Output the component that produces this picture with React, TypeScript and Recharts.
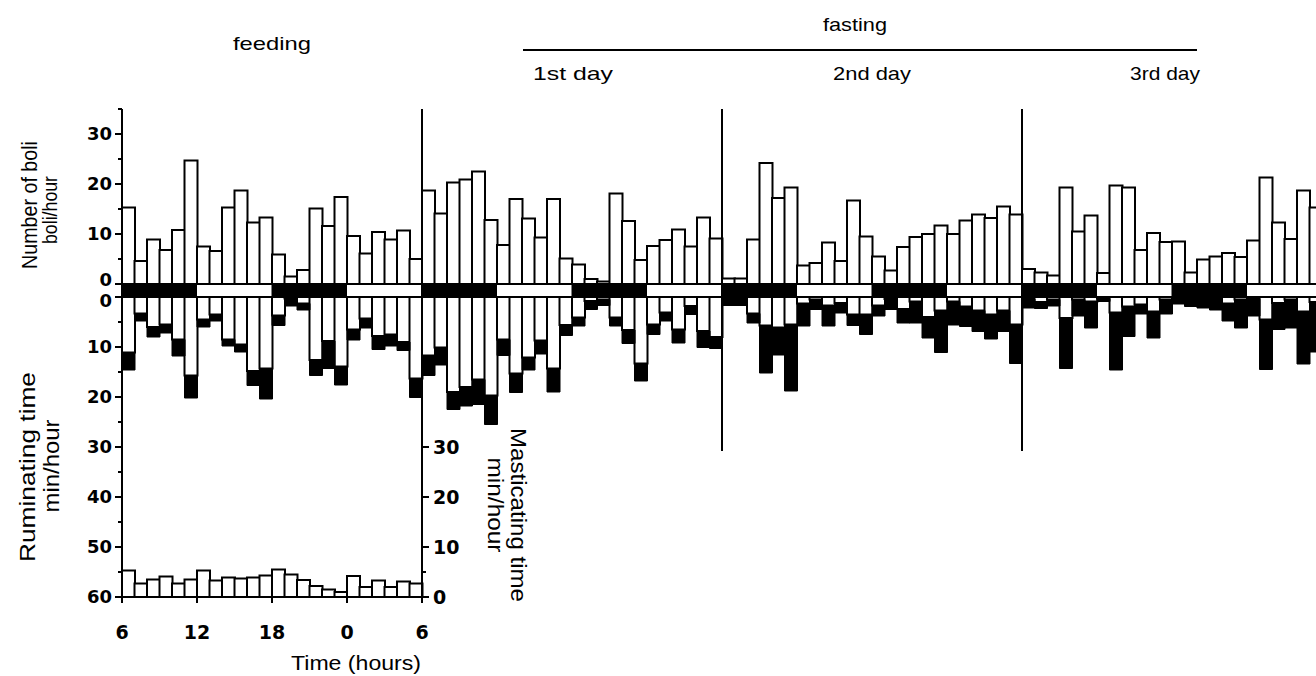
import React from "react";
import { ComposedChart, BarChart, Bar, Cell, XAxis, YAxis, ReferenceLine } from "recharts";

// one value per hour, each day starting at 06:00
const BOLI_FEED = [15.3, 4.6, 8.9, 6.8, 10.8, 24.7, 7.5, 6.6, 15.3, 18.7, 12.3, 13.3, 5.9, 1.5, 2.8, 15.1, 11.6, 17.4, 9.6, 6.1, 10.4, 8.9, 10.7, 5.0];
const BOLI_FAST1 = [18.7, 14.1, 20.3, 20.9, 22.5, 12.8, 7.8, 17.0, 13.1, 9.3, 17.0, 5.1, 3.9, 1.0, 0.5, 18.1, 12.6, 4.8, 7.6, 8.8, 10.9, 7.5, 13.3, 9.1];
const BOLI_FAST2 = [1.1, 1.1, 8.9, 24.2, 17.2, 19.3, 3.7, 4.2, 8.3, 4.6, 16.7, 9.5, 5.5, 2.7, 7.4, 9.4, 10.0, 11.7, 10.0, 12.7, 13.9, 13.2, 15.5, 13.9];
const BOLI_FAST3 = [3.0, 2.3, 1.7, 19.3, 10.5, 13.7, 2.2, 19.7, 19.3, 6.8, 10.2, 8.4, 8.5, 2.3, 4.9, 5.5, 6.2, 5.4, 8.7, 21.3, 12.3, 9.0, 18.7, 15.3];

// ruminating time, open (white) part and solid (black) part, min/hour
const RUM_OPEN_FEED = [11.1, 3.3, 6.0, 5.5, 8.5, 15.7, 4.5, 3.5, 8.5, 9.5, 14.8, 14.3, 3.7, 0.3, 1.3, 12.6, 8.8, 13.9, 6.5, 4.3, 7.8, 7.5, 9.0, 16.3];
const RUM_SOLID_FEED = [3.5, 1.5, 2.0, 1.7, 3.3, 4.5, 1.5, 1.3, 1.3, 1.5, 2.9, 6.1, 2.0, 1.5, 1.3, 3.1, 5.5, 3.7, 2.1, 1.9, 2.7, 2.3, 1.7, 3.8];
const RUM_OPEN_FAST1 = [11.7, 10.1, 19.0, 18.0, 16.5, 19.7, 8.5, 15.3, 12.1, 8.7, 14.3, 5.6, 4.1, 0.8, 0.5, 4.1, 6.6, 13.3, 5.5, 3.1, 6.5, 1.8, 6.8, 8.0];
const RUM_SOLID_FAST1 = [4.0, 3.5, 3.5, 3.8, 5.0, 5.8, 3.2, 3.8, 2.5, 2.7, 4.7, 2.1, 1.7, 1.7, 1.2, 1.7, 2.7, 3.5, 2.0, 1.7, 2.7, 1.7, 3.3, 2.3];
const RUM_OPEN_FAST2 = [0.4, 0.4, 3.3, 5.7, 6.1, 5.5, 1.3, 0.5, 1.7, 1.2, 3.5, 3.5, 1.7, 0.4, 2.4, 0.9, 4.0, 2.7, 0.9, 1.9, 2.7, 3.5, 2.7, 5.5];
const RUM_SOLID_FAST2 = [1.3, 1.3, 1.9, 9.5, 5.5, 13.3, 4.5, 2.0, 4.1, 2.0, 2.2, 4.0, 2.1, 2.1, 2.8, 4.3, 4.2, 8.4, 4.7, 4.0, 4.2, 4.9, 4.2, 7.8];
const RUM_OPEN_FAST3 = [0.4, 1.0, 0.5, 4.2, 0.5, 0.9, 0.3, 3.1, 1.9, 1.5, 2.9, 0.5, 0.2, 0.1, 0.1, 0.2, 1.3, 0.5, 0.3, 4.5, 1.2, 0.5, 2.9, 1.0];
const RUM_SOLID_FAST3 = [1.8, 1.3, 1.3, 10.1, 3.3, 5.3, 0.6, 11.5, 6.0, 1.9, 5.3, 2.9, 1.2, 1.8, 2.1, 2.4, 3.5, 5.7, 3.5, 10.0, 5.3, 5.7, 10.5, 10.0];

// masticating time during feeding day (inset), min/hour
const MAST_FEED = [5.3, 2.7, 3.5, 4.1, 2.7, 3.5, 5.3, 3.3, 3.9, 3.7, 3.9, 4.3, 5.5, 4.5, 3.4, 2.2, 1.5, 1.0, 4.2, 2.0, 3.3, 2.0, 3.1, 2.7];

// light/dark bar under the boli, one entry per 6 hours of a day
const STRIP_BLOCKS = ["dark", "light", "dark", "light"];
const DAY_STARTS = [48, 72]; // hours where fasting days 2 and 3 begin
const BOLI_TICKS = [0, 5, 10, 15, 20, 25, 30, 35];
const RUM_TICKS = [0, 5, 10, 15, 20, 25, 30, 35, 40, 45, 50, 55, 60];
const MAST_TICKS = [0, 5, 10, 20, 30];
const TIME_TICKS = [0, 6, 12, 18, 23]; // hour slots; the last label goes on the slot's far edge
const START_HOUR = 6;

const LOW_OFFSET = 2.6; // gap of the strip between the two panels, in axis units
const INSET_W = 300;
const HOUR_W = INSET_W / 24;
const FONT = "'Liberation Sans', Arial, sans-serif";
const NUM_FONT = "'DejaVu Sans', sans-serif";

const BOLI = [...BOLI_FEED, ...BOLI_FAST1, ...BOLI_FAST2, ...BOLI_FAST3];
const RUM_OPEN = [...RUM_OPEN_FEED, ...RUM_OPEN_FAST1, ...RUM_OPEN_FAST2, ...RUM_OPEN_FAST3];
const RUM_SOLID = [...RUM_SOLID_FEED, ...RUM_SOLID_FAST1, ...RUM_SOLID_FAST2, ...RUM_SOLID_FAST3];

const rows = BOLI.map((b, i) => ({
  k: i,
  boli: b,
  strip: -LOW_OFFSET,
  open: -RUM_OPEN[i],
  solid: -RUM_SOLID[i],
  dark: STRIP_BLOCKS[Math.floor((i % 24) / 6)] === "dark",
}));
const insetRows = MAST_FEED.map((m, i) => ({ k: i, mast: m }));
const leftTicks = [...BOLI_TICKS, ...RUM_TICKS.map((t) => -(t + LOW_OFFSET))];

function LeftTick(props: any) {
  const { x, y, payload } = props;
  const v = payload.value as number;
  const upper = v >= 0;
  const n = Math.round(upper ? v : -(v + LOW_OFFSET));
  const major = n % 10 === 0 && !(upper && n > 30);
  const ax = x + 8;
  // the two zero labels sit a little apart around the strip
  const shift = n === 0 ? (upper ? -4 : 4) : 0;
  return (
    <g>
      <line x1={ax - (major ? 7 : 4)} x2={ax} y1={y} y2={y} stroke="#000" strokeWidth={2} />
      {major && (
        <text x={ax - 10} y={y + shift} dy="0.36em" textAnchor="end" fontFamily={NUM_FONT} fontWeight="bold" fontSize={18} fill="#000">
          {n}
        </text>
      )}
    </g>
  );
}

function RightTick(props: any) {
  const { x, y, payload } = props;
  const n = payload.value as number;
  const major = n % 10 === 0;
  const ax = x - 8;
  return (
    <g>
      <line x1={ax} x2={ax + (major ? 7 : 4)} y1={y} y2={y} stroke="#000" strokeWidth={2} />
      {major && (
        <text x={ax + 11} y={y} dy="0.36em" textAnchor="start" fontFamily={NUM_FONT} fontWeight="bold" fontSize={19} fill="#000">
          {n}
        </text>
      )}
    </g>
  );
}

function TimeTick(props: any) {
  const { x, y, payload } = props;
  const slot = payload.value as number;
  const last = slot === 23;
  const edge = last ? x + HOUR_W / 2 : x - HOUR_W / 2;
  const hour = (START_HOUR + slot + (last ? 1 : 0)) % 24;
  const ay = y - 8;
  return (
    <g>
      <line x1={edge} x2={edge} y1={ay} y2={ay + 6} stroke="#000" strokeWidth={2} />
      <text x={edge} y={ay + 42} textAnchor="middle" fontFamily={NUM_FONT} fontWeight="bold" fontSize={19} fill="#000">
        {hour}
      </text>
    </g>
  );
}

function VText({ x, y, angle, len, size, children }: any) {
  return (
    <text transform={`translate(${x},${y}) rotate(${angle})`} textAnchor="middle" fontFamily={FONT} fontSize={size} textLength={len} lengthAdjust="spacingAndGlyphs" fill="#000">
      {children}
    </text>
  );
}

export default function App() {
  return (
    <div style={{ position: "absolute", left: 0, top: 0, width: 1316, height: 676, overflow: "hidden", background: "#fff" }}>
      <div style={{ position: "absolute", left: 0, top: 0 }}>
        <ComposedChart width={1322} height={676} data={rows} margin={{ top: 109, right: 0, bottom: 79, left: 62 }} barCategoryGap={0} barGap={0} stackOffset="none">
          <XAxis xAxisId="top" dataKey="k" type="category" hide height={0} />
          <XAxis xAxisId="low" dataKey="k" type="category" hide height={0} />
          <YAxis yAxisId="y" type="number" domain={[-(60 + LOW_OFFSET), 35]} allowDataOverflow ticks={leftTicks} interval={0} width={60} tickSize={6} tickMargin={2} tickLine={false} axisLine={{ stroke: "#000", strokeWidth: 2 }} tick={<LeftTick />} />
          <Bar xAxisId="top" yAxisId="y" dataKey="boli" fill="#fff" stroke="#000" strokeWidth={2} isAnimationActive={false} />
          <Bar xAxisId="low" yAxisId="y" dataKey="strip" stackId="low" isAnimationActive={false}>
            {rows.map((r) => (
              <Cell key={r.k} fill={r.dark ? "#000" : "#fff"} stroke={r.dark ? "#000" : "none"} />
            ))}
          </Bar>
          <Bar xAxisId="low" yAxisId="y" dataKey="open" stackId="low" fill="#fff" stroke="#000" strokeWidth={2} isAnimationActive={false} />
          <Bar xAxisId="low" yAxisId="y" dataKey="solid" stackId="low" fill="#000" stroke="#000" strokeWidth={1} isAnimationActive={false} />
          <ReferenceLine xAxisId="low" yAxisId="y" y={0} stroke="#000" strokeWidth={2} />
          <ReferenceLine xAxisId="low" yAxisId="y" y={-LOW_OFFSET} stroke="#000" strokeWidth={2} />
          {DAY_STARTS.map((d) => (
            <ReferenceLine key={d} xAxisId="low" yAxisId="y" segment={[{ x: d, y: 35 }, { x: d, y: -33.4 }]} position="start" stroke="#000" strokeWidth={2} ifOverflow="visible" />
          ))}
        </ComposedChart>
      </div>

      <div style={{ position: "absolute", left: 0, top: 0 }}>
        <BarChart width={122 + INSET_W + 60} height={676} data={insetRows} margin={{ top: 109, right: 0, bottom: 0, left: 122 }} barCategoryGap={0}>
          <XAxis dataKey="k" type="category" ticks={TIME_TICKS} interval={0} height={79} tickSize={6} tickMargin={2}
            axisLine={{ stroke: "#000", strokeWidth: 2 }} tickLine={false} tick={<TimeTick />} />
          <YAxis yAxisId="m" orientation="right" type="number" domain={[0, 60 + LOW_OFFSET + 35]} allowDataOverflow ticks={MAST_TICKS} interval={0} width={60} tickSize={6} tickMargin={2} tickLine={false} axisLine={{ stroke: "#000", strokeWidth: 2 }} tick={<RightTick />} />
          <Bar yAxisId="m" dataKey="mast" fill="#fff" stroke="#000" strokeWidth={2} isAnimationActive={false} />
        </BarChart>
      </div>

      <svg width={1316} height={676} style={{ position: "absolute", left: 0, top: 0, pointerEvents: "none" }}>
        <text x={272} y={50} textAnchor="middle" fontFamily={FONT} fontSize={19} textLength={78} lengthAdjust="spacingAndGlyphs">feeding</text>
        <text x={855} y={31} textAnchor="middle" fontFamily={FONT} fontSize={19} textLength={64} lengthAdjust="spacingAndGlyphs">fasting</text>
        <line x1={523} x2={1197} y1={50} y2={50} stroke="#000" strokeWidth={2} />
        <text x={533} y={80} fontFamily={FONT} fontSize={19} textLength={80} lengthAdjust="spacingAndGlyphs">1st day</text>
        <text x={833} y={80} fontFamily={FONT} fontSize={19} textLength={78} lengthAdjust="spacingAndGlyphs">2nd day</text>
        <text x={1130} y={80} fontFamily={FONT} fontSize={19} textLength={70} lengthAdjust="spacingAndGlyphs">3rd day</text>
        <VText x={37} y={205} angle={-90} len={128} size={22}>Number of boli</VText>
        <VText x={57} y={210} angle={-90} len={68} size={20}>boli/hour</VText>
        <VText x={35} y={467} angle={-90} len={190} size={22}>Ruminating time</VText>
        <VText x={59} y={466} angle={-90} len={93} size={22}>min/hour</VText>
        <VText x={511} y={515} angle={90} len={174} size={22}>Masticating time</VText>
        <VText x={488} y={505} angle={90} len={95} size={22}>min/hour</VText>
        <text x={356} y={670} textAnchor="middle" fontFamily={FONT} fontSize={20} textLength={130} lengthAdjust="spacingAndGlyphs">Time (hours)</text>
      </svg>
    </div>
  );
}
